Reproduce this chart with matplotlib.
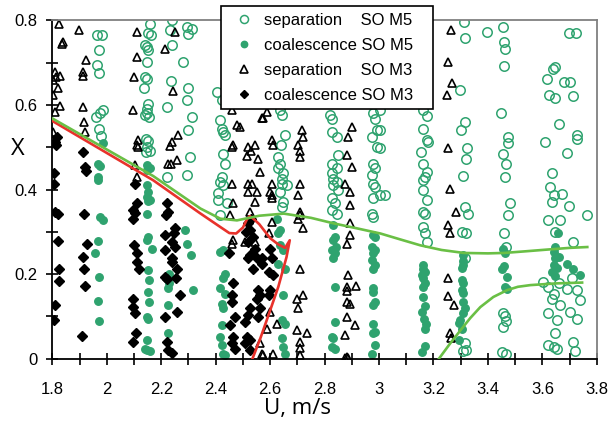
import numpy as np
import matplotlib
matplotlib.use("Agg")
import matplotlib.pyplot as plt

plt.rcParams['font.family'] = ['Liberation Sans', 'DejaVu Sans']

# separation SO M5 (open green circles)
sep_m5 = np.array([
    [1.963, 0.766], [1.981, 0.765], [1.973, 0.729], [1.965, 0.694], [1.972, 0.676],
    [1.985, 0.587], [1.975, 0.58], [1.962, 0.572], [1.972, 0.544], [1.978, 0.526],
    [2.159, 0.792], [2.153, 0.769], [2.162, 0.766], [2.141, 0.741], [2.147, 0.737],
    [2.153, 0.729], [2.149, 0.702], [2.141, 0.666], [2.147, 0.662], [2.138, 0.641],
    [2.152, 0.603], [2.147, 0.59], [2.148, 0.58], [2.141, 0.576], [2.155, 0.572],
    [2.144, 0.52], [2.152, 0.515], [2.147, 0.50], [2.144, 0.489], [2.159, 0.49],
    [2.239, 0.80], [2.232, 0.778], [2.239, 0.741], [2.281, 0.702], [2.236, 0.657],
    [2.30, 0.639], [2.294, 0.611], [2.22, 0.595], [2.312, 0.572], [2.30, 0.54],
    [2.306, 0.477], [2.22, 0.43], [2.294, 0.434], [2.294, 0.784], [2.312, 0.78],
    [2.30, 0.768],
    [2.404, 0.63], [2.422, 0.611], [2.416, 0.564], [2.422, 0.544], [2.428, 0.536],
    [2.434, 0.528], [2.428, 0.485], [2.434, 0.461], [2.422, 0.43], [2.416, 0.418],
    [2.428, 0.41], [2.41, 0.391], [2.441, 0.367], [2.416, 0.339], [2.41, 0.375],
    [2.637, 0.587], [2.643, 0.576], [2.63, 0.477], [2.637, 0.461], [2.649, 0.438],
    [2.643, 0.425], [2.63, 0.45], [2.643, 0.414], [2.661, 0.41], [2.637, 0.394],
    [2.649, 0.371], [2.643, 0.359], [2.655, 0.53], [2.64, 0.505],
    [2.82, 0.576], [2.826, 0.567], [2.826, 0.536], [2.845, 0.524], [2.851, 0.481],
    [2.826, 0.461], [2.845, 0.45], [2.826, 0.438], [2.83, 0.426], [2.845, 0.418],
    [2.83, 0.41], [2.851, 0.398], [2.826, 0.379], [2.839, 0.367], [2.826, 0.351],
    [2.845, 0.343],
    [2.979, 0.58], [2.985, 0.567], [2.992, 0.54], [2.973, 0.524], [2.992, 0.50],
    [2.979, 0.461], [2.985, 0.45], [2.973, 0.434], [2.979, 0.414], [2.985, 0.405],
    [2.979, 0.379], [3.004, 0.387], [2.973, 0.343], [2.979, 0.334], [3.022, 0.387],
    [3.004, 0.587], [3.004, 0.54], [3.004, 0.497],
    [3.163, 0.587], [3.175, 0.573], [3.161, 0.544], [3.175, 0.517], [3.18, 0.512],
    [3.153, 0.489], [3.163, 0.46], [3.175, 0.442], [3.169, 0.43], [3.163, 0.422],
    [3.161, 0.398], [3.175, 0.375], [3.161, 0.347], [3.169, 0.343], [3.163, 0.312],
    [3.169, 0.296], [3.175, 0.276],
    [3.311, 0.796], [3.316, 0.759], [3.396, 0.773], [3.298, 0.635], [3.316, 0.56],
    [3.30, 0.54], [3.322, 0.497], [3.32, 0.471], [3.308, 0.431], [3.316, 0.359],
    [3.325, 0.343], [3.304, 0.30], [3.318, 0.296], [3.316, 0.239], [3.316, 0.036],
    [3.32, 0.02], [3.31, 0.018],
    [3.457, 0.784], [3.459, 0.749], [3.463, 0.733], [3.459, 0.691], [3.447, 0.58],
    [3.475, 0.523], [3.473, 0.51], [3.457, 0.484], [3.467, 0.461], [3.463, 0.43],
    [3.481, 0.368], [3.475, 0.339], [3.459, 0.297], [3.467, 0.264], [3.457, 0.107],
    [3.463, 0.10], [3.455, 0.075], [3.465, 0.09], [3.451, 0.016], [3.467, 0.012],
    [3.696, 0.769], [3.724, 0.771], [3.638, 0.686], [3.645, 0.69], [3.616, 0.662],
    [3.68, 0.654], [3.702, 0.654], [3.626, 0.623], [3.647, 0.617], [3.714, 0.621],
    [3.66, 0.556], [3.727, 0.528], [3.727, 0.52], [3.61, 0.513], [3.692, 0.487],
    [3.635, 0.438],
    [3.628, 0.406], [3.641, 0.387], [3.671, 0.39], [3.635, 0.371], [3.696, 0.36],
    [3.622, 0.329], [3.665, 0.329], [3.763, 0.339], [3.647, 0.30], [3.714, 0.276],
    [3.604, 0.182], [3.62, 0.17], [3.641, 0.154], [3.665, 0.126], [3.622, 0.107],
    [3.652, 0.091], [3.647, 0.06], [3.622, 0.032], [3.641, 0.028], [3.652, 0.024],
    [3.714, 0.04], [3.72, 0.018], [3.727, 0.162], [3.739, 0.138], [3.702, 0.111],
    [3.727, 0.095], [3.66, 0.18], [3.635, 0.14], [3.69, 0.165], [3.71, 0.19],
])

# coalescence SO M5 (filled green circles)
coal_m5 = np.array([
    [1.987, 0.509], [1.969, 0.461], [1.975, 0.455], [1.969, 0.43], [1.969, 0.422],
    [1.975, 0.335], [1.985, 0.329], [1.969, 0.278], [1.957, 0.25], [1.973, 0.193],
    [1.969, 0.136], [1.973, 0.089],
    [2.147, 0.457], [2.159, 0.452], [2.149, 0.445], [2.147, 0.41], [2.153, 0.394],
    [2.149, 0.382], [2.153, 0.372], [2.159, 0.376], [2.147, 0.343], [2.153, 0.288],
    [2.147, 0.28], [2.165, 0.26], [2.153, 0.209], [2.155, 0.186], [2.153, 0.158],
    [2.155, 0.134], [2.147, 0.099], [2.153, 0.095], [2.149, 0.044], [2.141, 0.024],
    [2.147, 0.02], [2.159, 0.018],
    [2.288, 0.304], [2.294, 0.272], [2.308, 0.245], [2.318, 0.162], [2.226, 0.166],
    [2.23, 0.18], [2.226, 0.126], [2.223, 0.06], [2.23, 0.20],
    [2.428, 0.257], [2.416, 0.252], [2.434, 0.201], [2.426, 0.19], [2.416, 0.166],
    [2.434, 0.154], [2.422, 0.13], [2.428, 0.119], [2.422, 0.079], [2.416, 0.052],
    [2.422, 0.032], [2.428, 0.012], [2.434, 0.008],
    [2.637, 0.304], [2.63, 0.296], [2.637, 0.268], [2.649, 0.257], [2.63, 0.225],
    [2.655, 0.213], [2.649, 0.15], [2.643, 0.091], [2.655, 0.082], [2.643, 0.048],
    [2.649, 0.028], [2.655, 0.012], [2.625, 0.33],
    [2.832, 0.316], [2.839, 0.288], [2.832, 0.28], [2.842, 0.264], [2.826, 0.257],
    [2.839, 0.25], [2.832, 0.237], [2.839, 0.17], [2.839, 0.087], [2.826, 0.052],
    [2.832, 0.048], [2.826, 0.028], [2.839, 0.024],
    [2.979, 0.292], [2.985, 0.287], [2.973, 0.264], [2.985, 0.257], [2.979, 0.25],
    [2.973, 0.233], [2.985, 0.221], [2.979, 0.213], [2.979, 0.166], [2.979, 0.158],
    [2.985, 0.134], [2.979, 0.126], [2.979, 0.083], [2.985, 0.063], [2.979, 0.06],
    [2.985, 0.032], [2.973, 0.012],
    [3.163, 0.221], [3.163, 0.213], [3.169, 0.205], [3.157, 0.197], [3.163, 0.19],
    [3.169, 0.18], [3.163, 0.17], [3.163, 0.146], [3.169, 0.125], [3.157, 0.11],
    [3.165, 0.095], [3.173, 0.083], [3.169, 0.07], [3.169, 0.03], [3.157, 0.015],
    [3.31, 0.245], [3.31, 0.23], [3.31, 0.221], [3.304, 0.215], [3.304, 0.186],
    [3.31, 0.18], [3.304, 0.162], [3.31, 0.155], [3.308, 0.134], [3.316, 0.12],
    [3.31, 0.107], [3.298, 0.091], [3.292, 0.085], [3.304, 0.071], [3.295, 0.044],
    [3.457, 0.26], [3.463, 0.25], [3.46, 0.22], [3.451, 0.213], [3.47, 0.193],
    [3.463, 0.17], [3.47, 0.165],
    [3.659, 0.296], [3.647, 0.265], [3.641, 0.252], [3.66, 0.24], [3.645, 0.237],
    [3.641, 0.221], [3.652, 0.215], [3.635, 0.205], [3.645, 0.195], [3.69, 0.225],
    [3.714, 0.213], [3.739, 0.197],
])

# separation SO M3 (open triangles)
sep_m3 = np.array([
    [1.826, 0.792], [1.838, 0.749], [1.835, 0.745], [1.81, 0.678], [1.828, 0.668],
    [1.804, 0.658], [1.819, 0.641], [1.801, 0.623], [1.828, 0.597], [1.81, 0.583],
    [1.804, 0.536], [1.815, 0.665],
    [1.896, 0.778], [1.924, 0.706], [1.912, 0.678], [1.914, 0.668], [1.914, 0.595],
    [1.916, 0.56], [1.92, 0.536],
    [2.11, 0.773], [2.11, 0.713], [2.101, 0.665], [2.098, 0.587], [2.114, 0.518],
    [2.11, 0.505], [2.116, 0.50], [2.104, 0.457], [2.11, 0.43],
    [2.251, 0.773], [2.214, 0.733], [2.242, 0.633], [2.263, 0.528], [2.239, 0.513],
    [2.232, 0.503], [2.226, 0.461], [2.236, 0.461], [2.259, 0.469],
    [2.459, 0.587], [2.49, 0.548], [2.465, 0.505], [2.459, 0.50], [2.459, 0.414],
    [2.465, 0.367], [2.453, 0.339], [2.465, 0.28], [2.459, 0.272], [2.477, 0.552],
    [2.52, 0.50], [2.545, 0.505], [2.514, 0.479], [2.53, 0.49], [2.557, 0.473],
    [2.563, 0.442], [2.569, 0.568], [2.575, 0.568], [2.588, 0.583], [2.606, 0.517],
    [2.61, 0.505], [2.52, 0.414], [2.535, 0.414], [2.551, 0.394], [2.52, 0.394],
    [2.545, 0.371], [2.526, 0.347], [2.508, 0.276], [2.545, 0.276], [2.594, 0.296],
    [2.606, 0.323], [2.606, 0.387], [2.606, 0.414], [2.60, 0.394], [2.606, 0.379],
    [2.569, 0.012], [2.563, 0.036], [2.575, 0.008], [2.612, 0.012], [2.588, 0.071],
    [2.624, 0.083], [2.60, 0.111],
    [2.716, 0.54], [2.722, 0.524], [2.704, 0.505], [2.71, 0.49], [2.71, 0.477],
    [2.71, 0.414], [2.704, 0.387], [2.71, 0.347], [2.704, 0.331], [2.722, 0.308],
    [2.71, 0.34], [2.71, 0.213], [2.698, 0.142], [2.722, 0.15], [2.704, 0.119],
    [2.698, 0.067], [2.735, 0.06], [2.71, 0.04], [2.71, 0.025], [2.71, 0.008],
    [2.90, 0.548], [2.887, 0.524], [2.882, 0.481], [2.90, 0.453], [2.875, 0.414],
    [2.894, 0.394], [2.894, 0.363], [2.894, 0.32], [2.894, 0.292], [2.882, 0.272],
    [2.887, 0.197], [2.882, 0.17], [2.916, 0.171], [2.882, 0.16], [2.882, 0.134],
    [2.894, 0.13], [2.882, 0.099], [2.912, 0.079], [2.875, 0.055], [2.882, 0.004],
    [2.875, 0.002], [2.887, 0.002],
    [3.264, 0.777], [3.255, 0.702], [3.267, 0.652], [3.251, 0.623], [3.255, 0.499],
    [3.259, 0.402], [3.283, 0.347], [3.255, 0.316], [3.261, 0.297], [3.255, 0.19],
    [3.255, 0.148], [3.276, 0.126], [3.259, 0.06], [3.264, 0.05],
])

# coalescence SO M3 (black diamonds)
coal_m3 = np.array([
    [1.816, 0.524], [1.81, 0.513], [1.815, 0.505], [1.807, 0.438], [1.807, 0.413],
    [1.81, 0.347], [1.822, 0.343], [1.822, 0.278], [1.826, 0.213], [1.826, 0.184],
    [1.81, 0.126], [1.807, 0.091],
    [1.914, 0.489], [1.92, 0.453], [1.925, 0.443], [1.916, 0.341], [1.928, 0.271],
    [1.914, 0.241], [1.916, 0.211], [1.92, 0.171], [1.91, 0.054],
    [2.104, 0.414], [2.11, 0.367], [2.098, 0.351], [2.104, 0.345], [2.095, 0.331],
    [2.10, 0.268], [2.11, 0.249], [2.112, 0.229], [2.12, 0.211], [2.098, 0.142],
    [2.095, 0.122], [2.104, 0.107], [2.107, 0.06], [2.098, 0.04],
    [2.22, 0.367], [2.226, 0.347], [2.218, 0.34], [2.214, 0.292], [2.251, 0.308],
    [2.248, 0.296], [2.239, 0.276], [2.251, 0.264], [2.214, 0.257], [2.239, 0.237],
    [2.239, 0.228], [2.257, 0.213], [2.214, 0.193], [2.22, 0.188], [2.254, 0.19],
    [2.269, 0.15], [2.257, 0.111], [2.214, 0.099], [2.22, 0.04], [2.226, 0.02],
    [2.239, 0.014],
    [2.447, 0.249], [2.465, 0.178], [2.459, 0.15], [2.459, 0.134], [2.471, 0.099],
    [2.453, 0.079], [2.465, 0.052], [2.459, 0.036], [2.471, 0.024],
    [2.52, 0.32], [2.526, 0.304], [2.538, 0.288], [2.52, 0.276], [2.526, 0.245],
    [2.52, 0.237], [2.538, 0.213], [2.551, 0.237], [2.569, 0.237], [2.569, 0.225],
    [2.60, 0.26], [2.606, 0.237], [2.594, 0.205], [2.612, 0.197], [2.557, 0.162],
    [2.563, 0.15], [2.551, 0.142], [2.60, 0.162], [2.594, 0.15], [2.526, 0.119],
    [2.52, 0.103], [2.563, 0.119], [2.557, 0.099], [2.508, 0.087], [2.514, 0.052],
    [2.526, 0.044], [2.508, 0.036], [2.526, 0.02], [2.53, 0.33], [2.51, 0.30],
    [2.545, 0.26],
])

# boundary curves
red_line = np.array([
    [1.80, 0.562], [2.17, 0.422], [2.34, 0.345], [2.42, 0.31], [2.45, 0.297],
    [2.475, 0.296], [2.50, 0.31], [2.515, 0.33], [2.525, 0.337], [2.54, 0.33],
    [2.56, 0.318], [2.60, 0.285], [2.63, 0.27], [2.655, 0.262], [2.672, 0.28],
    [2.66, 0.24], [2.63, 0.17], [2.595, 0.105], [2.565, 0.05], [2.535, 0.0],
])
green_upper = np.array([
    [1.80, 0.568], [2.17, 0.432], [2.344, 0.355], [2.417, 0.331], [2.478, 0.327],
    [2.56, 0.338], [2.65, 0.343], [2.75, 0.333], [2.833, 0.320], [2.92, 0.308],
    [3.005, 0.296], [3.078, 0.282], [3.152, 0.268], [3.23, 0.257], [3.312, 0.25],
    [3.40, 0.249], [3.459, 0.25], [3.54, 0.254], [3.618, 0.258], [3.70, 0.262],
    [3.765, 0.264],
])
green_lower = np.array([
    [3.22, 0.0], [3.26, 0.035], [3.299, 0.067], [3.335, 0.096], [3.372, 0.122],
    [3.42, 0.146], [3.47, 0.162], [3.51, 0.17], [3.556, 0.174], [3.65, 0.178],
    [3.746, 0.18],
])

green = '#2fa36f'
fig = plt.figure(figsize=(6.09, 4.23), dpi=100)
ax = fig.add_axes([0.086, 0.152, 0.894, 0.8])

ax.plot(sep_m5[:, 0], sep_m5[:, 1], 'o', ms=6.8, mfc='none', mec=green, mew=1.1,
        label='separation    SO M5   ')
ax.plot(coal_m5[:, 0], coal_m5[:, 1], 'o', ms=5.4, mfc=green, mec=green,
        label='coalescence SO M5   ')
ax.plot(sep_m3[:, 0], sep_m3[:, 1], '^', ms=6.0, mfc='none', mec='black', mew=1.2,
        label='separation    SO M3   ')
ax.plot(coal_m3[:, 0], coal_m3[:, 1], 'D', ms=5.2, mfc='black', mec='black',
        label='coalescence SO M3   ')

ax.plot(red_line[:, 0], red_line[:, 1], color='#e8322b', lw=1.9, zorder=3)
ax.plot(green_upper[:, 0], green_upper[:, 1], color='#6abf45', lw=1.9, zorder=3)
ax.plot(green_lower[:, 0], green_lower[:, 1], color='#6abf45', lw=1.9, zorder=3)

ax.set_xlim(1.8, 3.8)
ax.set_ylim(0, 0.8)
xt = np.round(np.arange(1.8, 3.81, 0.1), 1)
ax.set_xticks(xt)
ax.set_xticklabels(['%g' % v if i % 2 == 0 else '' for i, v in enumerate(xt)])
yt = np.round(np.arange(0, 0.81, 0.1), 1)
ax.set_yticks(yt)
ax.set_yticklabels(['%g' % v if i % 2 == 0 else '' for i, v in enumerate(yt)])
ax.tick_params(axis='x', direction='inout', length=9, width=1.2, labelsize=12, pad=12)
ax.tick_params(axis='y', direction='inout', length=9, width=1.2, labelsize=12, pad=6)

for s in ['left', 'bottom']:
    ax.spines[s].set_linewidth(1.3)
for s in ['top', 'right']:
    ax.spines[s].set_color('#808080')
    ax.spines[s].set_linewidth(1.3)

ax.set_xlabel('U, m/s', fontsize=16, family='Open Sans', va='center')
ax.xaxis.set_label_coords(0.451, -0.146)
ax.set_ylabel('X', fontsize=17, family='Open Sans', rotation=0, va='center', ha='center')
ax.yaxis.set_label_coords(-0.064, 0.619)

leg = ax.legend(loc='upper left', bbox_to_anchor=(0.363, 0.986),
                bbox_transform=fig.transFigure, borderaxespad=0, fontsize=12,
                frameon=True, fancybox=False, framealpha=1, edgecolor='black',
                handlelength=2.0, handletextpad=0.15, labelspacing=0.6,
                borderpad=0.4, markerscale=0.85)
leg.get_frame().set_linewidth(1.2)

fig.savefig('out.png', dpi=100)
